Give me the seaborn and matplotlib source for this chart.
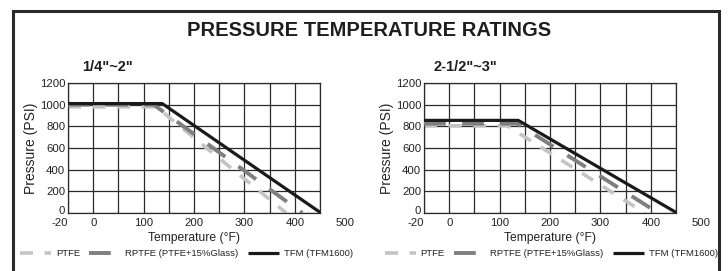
import numpy as np
import pandas as pd
import matplotlib
matplotlib.use("Agg")
import matplotlib.pyplot as plt
import matplotlib.transforms as mtransforms
import seaborn as sns
from matplotlib.patches import Rectangle

# ---------------- data ----------------
title = "PRESSURE TEMPERATURE RATINGS"
panel_titles = ['1/4"~2"', '2-1/2"~3"']
series_names = ["PTFE", "RPTFE (PTFE+15%Glass)", "TFM (TFM1600)"]

# left panel (1/4"~2")
left_temp = {
    "PTFE": [-50, 125, 383],
    "RPTFE (PTFE+15%Glass)": [-50, 120, 415],
    "TFM (TFM1600)": [-50, 137, 452],
}
left_psi = {
    "PTFE": [980, 980, 0],
    "RPTFE (PTFE+15%Glass)": [1000, 1000, 0],
    "TFM (TFM1600)": [1010, 1010, 0],
}
# right panel (2-1/2"~3")
right_temp = {
    "PTFE": [-50, 115, 388],
    "RPTFE (PTFE+15%Glass)": [-50, 135, 415],
    "TFM (TFM1600)": [-50, 137, 452],
}
right_psi = {
    "PTFE": [805, 805, 0],
    "RPTFE (PTFE+15%Glass)": [825, 825, 0],
    "TFM (TFM1600)": [855, 855, 0],
}

x_tick_labels = ["-20", "0", "100", "200", "300", "400", "500"]
x_tick_pos = [-50, 0, 100, 200, 300, 400, 500]
y_ticks = [0, 200, 400, 600, 800, 1000, 1200]
x_grid = list(range(-50, 451, 50))

# ---------------- style ----------------
sns.set_theme(style="white")
plt.rcParams["font.family"] = ["Liberation Sans", "DejaVu Sans"]

styles = {
    "PTFE": dict(color="#c4c4c4", lw=2.6, dashes=(3.6, 3.2), z=2),
    "RPTFE (PTFE+15%Glass)": dict(color="#7f7f7f", lw=2.8, dashes=(5.6, 4.2), z=3),
    "TFM (TFM1600)": dict(color="#1a1a1a", lw=2.3, dashes=None, z=4),
}

fig = plt.figure(figsize=(7.28, 2.71), dpi=100)

# outer frame
fig.patches.append(Rectangle((13 / 728, -0.2), (719 - 13) / 728, 1.2 - 11 / 271,
                             transform=fig.transFigure, fill=False,
                             edgecolor="#2a2a2a", linewidth=2.2))

fig.text(369 / 728, 1 - 30 / 271, title, ha="center", va="center",
         fontsize=14.5, fontweight="bold", color="#1e1e1e")

panels = [
    (68 / 728, panel_titles[0], left_temp, left_psi, 82 / 728, 0.47),
    (424 / 728, panel_titles[1], right_temp, right_psi, 434 / 728, 0.505),
]

for x0, ptitle, temps, psis, tx, legx in panels:
    ax = fig.add_axes([x0, 1 - 213 / 271, 252 / 728, 130 / 271])
    for name in series_names:
        st = styles[name]
        df = pd.DataFrame({"Temperature": temps[name], "Pressure": psis[name]})
        sns.lineplot(data=df, x="Temperature", y="Pressure", ax=ax,
                     color=st["color"], linewidth=st["lw"], sort=False,
                     estimator=None, label=name, zorder=st["z"])
        line = ax.get_lines()[-1]
        line.set_solid_capstyle("butt")
        line.set_dash_capstyle("butt")
        if st["dashes"] is not None:
            line.set_dashes(st["dashes"])
    ax.set_xlim(-50, 450)
    ax.set_ylim(0, 1200)
    ax.set_xticks(x_grid)
    ax.set_xticklabels([])
    ax.set_yticks(y_ticks)
    ax.set_yticklabels([str(v) for v in y_ticks], fontsize=8.2, color="#222")
    ax.tick_params(axis="both", length=0, pad=2)
    # lift the "0" label slightly as in the reference
    zero_lab = ax.get_yticklabels()[0]
    zero_lab.set_transform(zero_lab.get_transform() +
                           mtransforms.ScaledTranslation(0, 3 / 100, fig.dpi_scale_trans))
    ax.grid(True, color="#2a2a2a", linewidth=0.9)
    ax.set_axisbelow(True)
    for sp in ax.spines.values():
        sp.set_color("#2a2a2a")
        sp.set_linewidth(0.9)
    trans = ax.get_xaxis_transform()
    for pos, lab in zip(x_tick_pos, x_tick_labels):
        ha = "right" if pos == x_tick_pos[0] else "center"
        ax.text(pos, -0.04, lab, transform=trans, ha=ha, va="top",
                fontsize=8.2, color="#222", clip_on=False)
    ax.set_xlabel("Temperature (°F)", fontsize=8.7, color="#222", labelpad=12)
    ax.set_ylabel("Pressure (PSI)", fontsize=10, color="#222", labelpad=1)
    ax.text(tx, 1 - 67 / 271, ptitle, transform=fig.transFigure, ha="left",
            va="center", fontsize=10.5, fontweight="bold", color="#1e1e1e")
    ax.legend(loc="center", bbox_to_anchor=(legx, -0.315), ncol=3,
              frameon=False, fontsize=6.8, handlelength=3.3,
              columnspacing=1.0, handletextpad=0.5, labelcolor="#222",
              borderaxespad=0, borderpad=0)

fig.savefig("out.png", dpi=100)
